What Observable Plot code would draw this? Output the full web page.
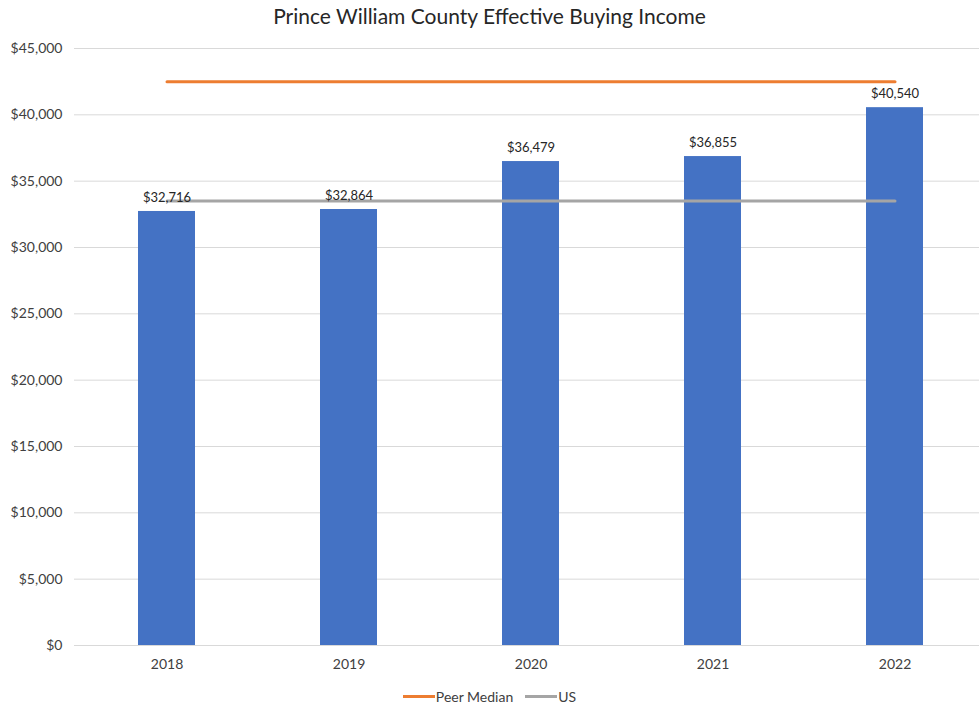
<!DOCTYPE html>
<html>
<head>
<meta charset="utf-8">
<script src="https://cdn.jsdelivr.net/npm/d3@7"></script>
<script src="https://cdn.jsdelivr.net/npm/@observablehq/plot@0.6"></script>
<style>
  body { margin: 0; background: #fff; font-family: Lato, "Open Sans", sans-serif; }
  #wrap { width: 979px; height: 707px; position: relative; overflow: hidden; }
  #title { position: absolute; top: 3px; left: 0; width: 979px; text-align: center; font-size: 21px; color: #262626; }
  #chart { position: absolute; top: 36px; left: 0; }
  #legend { position: absolute; top: 688px; left: 0; width: 979px; display: flex; justify-content: center; align-items: center; font-size: 14px; color: #404040; }
  .sw { display: inline-block; width: 32px; height: 3px; margin-right: 1px; }
  .item { display: inline-flex; align-items: center; margin: 0 6px; }
</style>
</head>
<body>
<div id="wrap">
  <div id="title">Prince William County Effective Buying Income</div>
  <div id="chart"></div>
  <div id="legend">
    <span class="item"><span class="sw" style="background:#ED7D31"></span>Peer Median</span>
    <span class="item"><span class="sw" style="background:#A5A5A5"></span>US</span>
  </div>
</div>
<script>
const years = ["2018", "2019", "2020", "2021", "2022"];
const incomeValues = [32716, 32864, 36479, 36855, 40540];
const peerMedian = [42500, 42500, 42500, 42500, 42500];
const usValues = [33500, 33500, 33500, 33500, 33500];
const yTicks = [0, 5000, 10000, 15000, 20000, 25000, 30000, 35000, 40000, 45000];

const bars = years.map((y, i) => ({year: y, value: incomeValues[i]}));
const peer = years.map((y, i) => ({year: y, value: peerMedian[i]}));
const us = years.map((y, i) => ({year: y, value: usValues[i]}));
const fmt = d3.format("$,");

const chart = Plot.plot({
  width: 979,
  height: 650,
  marginTop: 12,
  marginBottom: 41,
  marginLeft: 74,
  marginRight: 0,
  style: {fontFamily: "Lato, 'Open Sans', sans-serif", fontSize: "14px", color: "#404040", background: "white"},
  x: {domain: years, range: [74, 987], paddingInner: 0.688, paddingOuter: 0.344, label: null, tickSize: 0, tickPadding: 14},
  y: {domain: [0, 45000], ticks: yTicks, tickFormat: fmt, label: null, tickSize: 0, tickPadding: 12},
  marks: [
    Plot.ruleY(yTicks, {stroke: "#d9d9d9", strokeWidth: 1}),
    Plot.barY(bars, {x: "year", y: "value", fill: "#4472C4"}),
    Plot.lineY(peer, {x: "year", y: "value", stroke: "#ED7D31", strokeWidth: 3}),
    Plot.lineY(us, {x: "year", y: "value", stroke: "#A5A5A5", strokeWidth: 3}),
    Plot.text(bars, {x: "year", y: "value", text: d => fmt(d.value), dy: -14, fontSize: 13, fill: "#262626"})
  ]
});
document.getElementById("chart").appendChild(chart);
</script>
</body>
</html>
